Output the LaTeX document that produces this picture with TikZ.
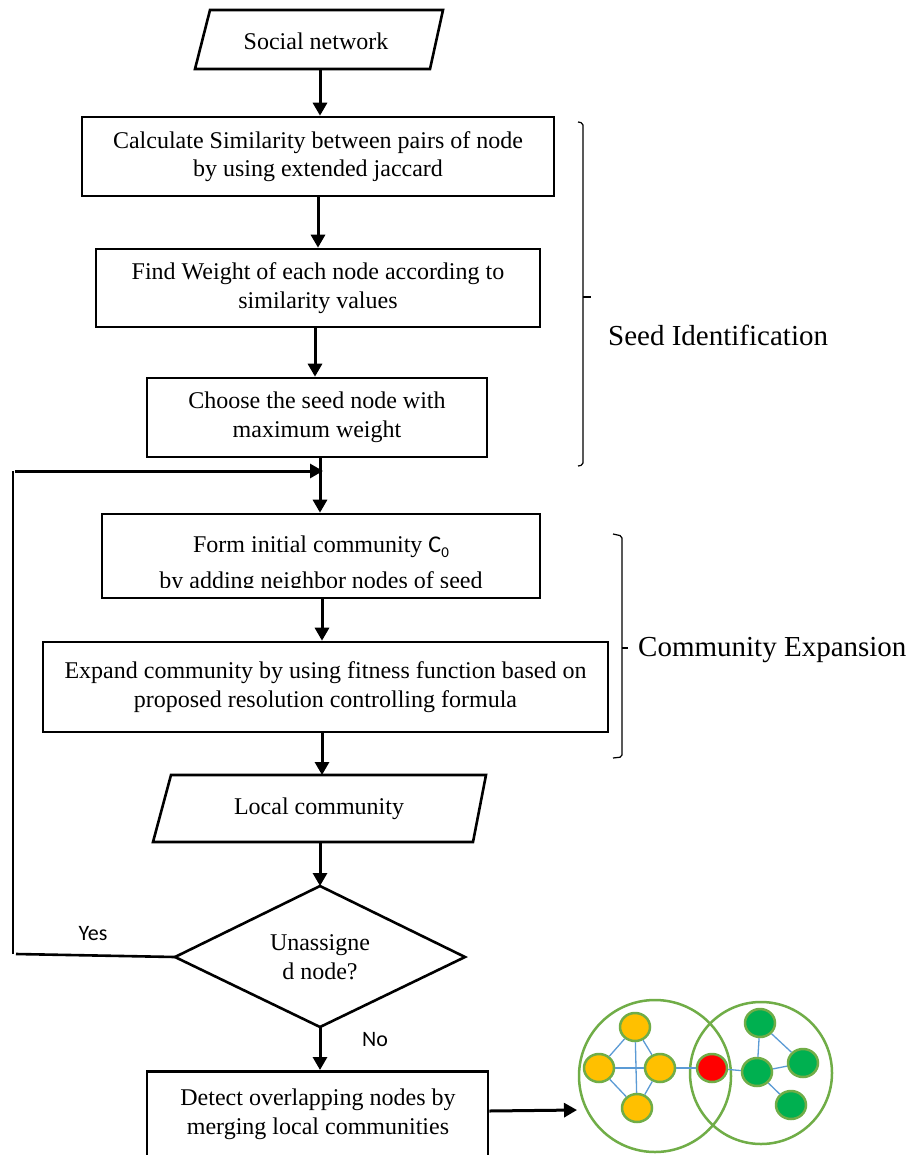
\documentclass[tikz,border=0pt]{standalone}
\usepackage{fontspec}
\setmainfont{Liberation Serif}
\newfontfamily\calib{Carlito}
\usetikzlibrary{arrows.meta,shapes.geometric}

\definecolor{edgeblue}{HTML}{5B9BD5}
\definecolor{ringgreen}{HTML}{70AD47}
\definecolor{nodeyellow}{HTML}{FFC000}
\definecolor{nodegreen}{HTML}{00B050}
\definecolor{nodered}{HTML}{FF0000}

\tikzset{
  txt/.style={font=\fontsize{24}{28.5}\selectfont, align=center, inner sep=0pt},
  box/.style={draw, line width=2.6pt, txt},
  outline/.style={draw, line width=2.6pt, line join=miter},
  arr/.style={line width=3pt, -{Triangle[length=13pt,width=14pt]}},
  brace/.style={line width=1.2pt, rounded corners=2pt},
  bracelabel/.style={font=\fontsize{29}{32}\selectfont, anchor=west, inner sep=0pt},
  answer/.style={font=\calib\fontsize{22}{24}\selectfont, inner sep=0pt},
  vertex/.style={ellipse, draw=ringgreen, line width=2.5pt, minimum width=30pt, minimum height=28pt, inner sep=0pt},
  link/.style={edgeblue, line width=1.3pt},
  ring/.style={draw=ringgreen, line width=2.5pt}
}

\begin{document}
\begin{tikzpicture}[x=1pt,y=-1pt]
\fill[white] (0,0) rectangle (916,1155);
\useasboundingbox (0,0) rectangle (916,1155);
\clip (0,0) rectangle (916,1155);

% input parallelogram
\draw[outline] (210,10) -- (443,10) -- (430,69) -- (195,69) -- cycle;
\node[txt] (sn) at (316,41) {Social network};
\coordinate (sn-b) at (320,69);

% seed identification steps
\node[box, minimum width=472pt, minimum height=79pt] (b1) at (318,156.5)
  {Calculate Similarity between pairs of node\\by using extended jaccard};
\node[box, minimum width=444pt, minimum height=78pt] (b2) at (318,288)
  {Find Weight of each node according to\\similarity values};
\node[box, minimum width=340pt, minimum height=79pt] (b3) at (317,417.5)
  {Choose the seed node with\\maximum weight};

% community expansion steps (second text line is cut off just above its baseline)
\node[draw, line width=2.6pt, minimum width=438pt, minimum height=84pt] (b4) at (321,556) {};
\begin{scope}
  \clip (b4.north west) rectangle (b4.east |- 0,587);
  \node[txt, align=center] (b4t) at (321,565)
    {Form initial community {\calib C\raisebox{-0.45ex}{\fontsize{15}{15}\selectfont 0}}\\[8pt]by adding neighbor nodes of seed};
\end{scope}
\node[box, minimum width=565pt, minimum height=90pt] (b5) at (325.5,687)
  {Expand community by using fitness function based on\\proposed resolution controlling formula};

% output parallelogram
\draw[outline] (171,775) -- (486,775) -- (473,842) -- (153,842) -- cycle;
\node[txt] (lc) at (319,809) {Local community};
\coordinate (lc-t) at (322,775);
\coordinate (lc-b) at (320,842);

% decision
\coordinate (dm-t) at (320,886);
\coordinate (dm-r) at (465,957);
\coordinate (dm-b) at (320,1027);
\coordinate (dm-l) at (175,957);
\draw[outline] (dm-t) -- (dm-r) -- (dm-b) -- (dm-l) -- cycle;
\node[txt] (dm) at (320,957) {Unassigne\\d node?};

\node[box, minimum width=341pt, minimum height=150pt, anchor=north] (b6) at (317.5,1070) {};
\node[txt] (b6t) at (318,1114) {Detect overlapping nodes by\\merging local communities};

% main flow
\draw[arr] (sn-b) -- (sn-b |- b1.north);
\draw[arr] (b1.south) -- (b1.south |- b2.north);
\draw[arr] ([xshift=-3pt]b2.south) -- ([xshift=-3pt]b2.south |- b3.north);
\draw[arr] ([xshift=3pt]b3.south) -- ([xshift=3pt]b3.south |- b4.north);
\draw[arr] ([xshift=1pt]b4.south) -- ([xshift=1pt]b4.south |- b5.north);
\draw[arr] ([xshift=-3.5pt]b5.south) -- (lc-t);
\draw[arr] (lc-b) -- (dm-t);
\draw[arr] (dm-b) -- (dm-b |- b6.north);

% loop back for unassigned nodes
\coordinate (fb-bl) at (13,954);
\coordinate (fb-tl) at (13,471);
\coordinate (fb-start) at (15,471);
\coordinate (fb-end) at (323,471);
\draw[line width=2.6pt] (dm-l) -- (16,954);
\draw[line width=1.6pt] (fb-bl) -- (fb-tl);
\draw[arr] (fb-start) -- (fb-end);
\node[answer] (yes) at (93,934) {Yes};
\node[answer] (no) at (375,1040) {No};

% stage brackets
\draw[brace] (578,122) -- (583,123) -- (583,465) -- (578,466);
\draw[line width=1.2pt] (583,297) -- (591,297);
\node[bracelabel] (seed) at (608,335) {Seed Identification};
\draw[brace] (613,534) -- (622,536) -- (622,757) -- (613,758);
\draw[line width=1.2pt] (622,648) -- (628,648);
\node[bracelabel] (cexp) at (638,650) {Community Expansion};

% overlapping communities sketch
\coordinate (g-in) at (577,1110);
\draw[arr] (b6.east |- 0,1111) -- (g-in);
\draw[ring] (655,1076) circle (76);
\draw[ring] (761,1073) circle (71);
\node[vertex, fill=nodeyellow] (y1) at (635,1027) {};
\node[vertex, fill=nodeyellow] (y2) at (599,1068) {};
\node[vertex, fill=nodeyellow] (y3) at (660,1068) {};
\node[vertex, fill=nodeyellow] (y4) at (637,1108) {};
\node[vertex, fill=nodered] (r1) at (712,1068) {};
\node[vertex, fill=nodegreen] (g1) at (760,1023) {};
\node[vertex, fill=nodegreen] (g2) at (757,1072) {};
\node[vertex, fill=nodegreen] (g3) at (803,1063) {};
\node[vertex, fill=nodegreen] (g4) at (791,1105) {};
\draw[link] (y1) -- (y2);
\draw[link] (y1) -- (y3);
\draw[link] (y1) -- (y4);
\draw[link] (y2) -- (y3);
\draw[link] (y2) -- (y4);
\draw[link] (y3) -- (y4);
\draw[link] (y3) -- (r1);
\draw[link] (r1) -- (g2);
\draw[link] (g1) -- (g2);
\draw[link] (g1) -- (g3);
\draw[link] (g2) -- (g3);
\draw[link] (g2) -- (g4);
\end{tikzpicture}
\end{document}
